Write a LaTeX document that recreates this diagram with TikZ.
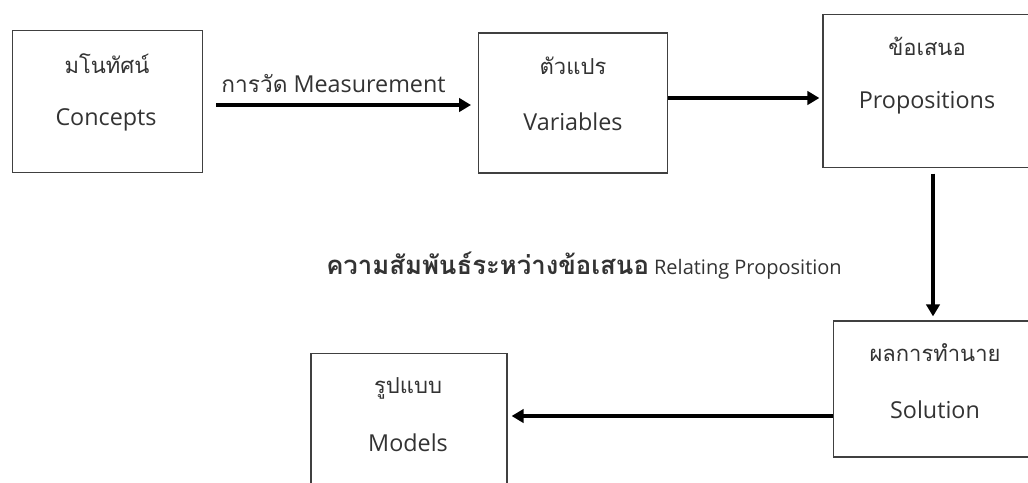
\documentclass[tikz,border=0pt]{standalone}
\usepackage{fontspec}
\setmainfont{Open Sans}
\newfontfamily\thaifont[Script=Thai]{Loma}
\usetikzlibrary{arrows.meta}
\definecolor{boxline}{HTML}{404040}
\definecolor{txt}{HTML}{333333}
\tikzset{
  conceptbox/.style={draw=boxline, line width=0.9pt, inner sep=0pt},
  thaitxt/.style={text=txt, font=\thaifont\fontsize{16.5}{20}\selectfont},
  engtxt/.style={text=txt, font=\fontsize{17.5}{20}\selectfont},
  flow/.style={line width=2.4pt, -{Triangle[length=9pt,width=10pt]}}
}
\begin{document}
\begin{tikzpicture}[x=0.75pt,y=-0.75pt]
\useasboundingbox (0,0) rectangle (1028,482);
\clip (0,0) rectangle (1028,482);
\fill[white] (0,0) rectangle (1028,482);
%%% The boxes of the first row
\node[conceptbox, minimum width=143pt, minimum height=107pt] (concepts) at (107.5,101.5) {};
\node[thaitxt] (conceptsth) at (107,64) {มโนทัศน์};
\node[engtxt] (conceptsen) at (106,120) {Concepts};
\node[conceptbox, minimum width=142pt, minimum height=105pt] (variables) at (573,103) {};
\node[thaitxt] (variablesth) at (573,66) {ตัวแปร};
\node[engtxt] (variablesen) at (573,122) {Variables};
\node[conceptbox, minimum width=180pt, minimum height=115pt] (props) at (943,91) {};
\node[thaitxt] (propsth) at (927,46) {ข้อเสนอ};
\node[engtxt] (propsen) at (927,103) {Propositions};
%%% The boxes of the second row
\node[conceptbox, minimum width=170pt, minimum height=102pt] (solution) at (947,389) {};
\node[thaitxt] (solutionth) at (935,353) {ผลการทำนาย};
\node[engtxt] (solutionen) at (935,410) {Solution};
\node[conceptbox, minimum width=147pt, minimum height=110pt] (models) at (409,427) {};
\node[thaitxt] (modelsth) at (408,388) {รูปแบบ};
\node[engtxt] (modelsen) at (408,443) {Models};
%%% The labels
\node[text=txt, font=\fontsize{17.5}{20}\selectfont] (measure) at (333.5,84)
{{\thaifont\fontsize{17}{20}\selectfont การวัด} Measurement};
\node[text=txt, font=\fontsize{15}{18}\selectfont] (relating) at (584,266)
{{\thaifont\bfseries\fontsize{19.3}{22}\selectfont ความสัมพันธ์ระหว่างข้อเสนอ} Relating Proposition};
%%% The arrows
\draw[flow, shorten <=9.75pt, shorten >=5pt] (concepts.east |- 0,105) -- (variables.west |- 0,105);
\draw[flow, shorten >=2.25pt] (variables.east |- 0,98) -- (props.west |- 0,98);
\draw[flow, shorten <=4pt, shorten >=3pt] (props.south -| 933,0) -- (solution.north -| 933,0);
\draw[flow, shorten >=3pt] (solution.west |- 0,416) -- (models.east |- 0,416);
\end{tikzpicture}
\end{document}
